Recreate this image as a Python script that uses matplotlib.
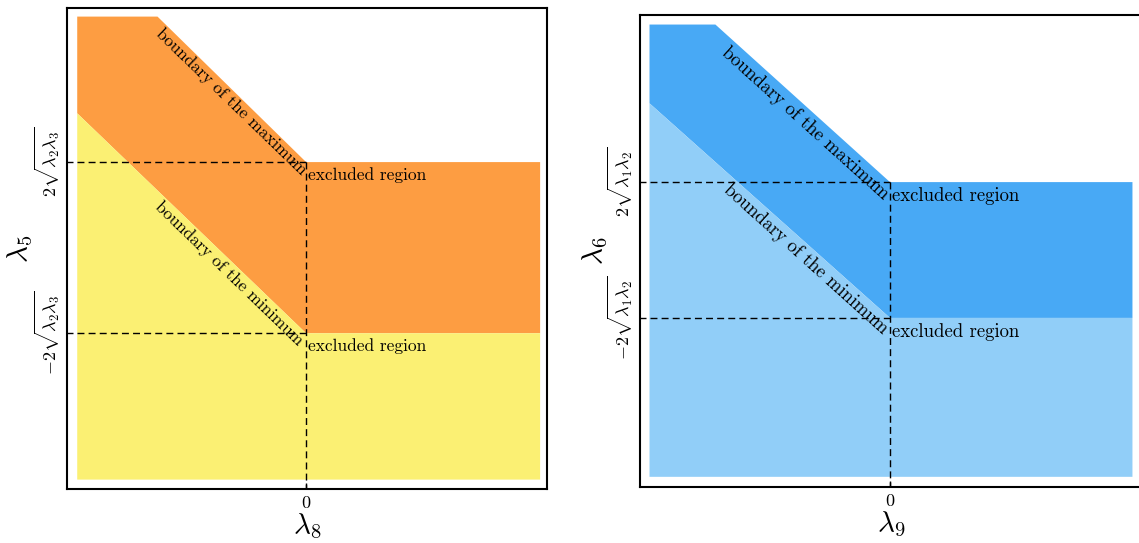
import matplotlib
matplotlib.use("Agg")
import matplotlib.pyplot as plt

plt.rcParams['mathtext.fontset'] = 'cm'
plt.rcParams['font.family'] = ['cmr10', 'DejaVu Serif']
plt.rcParams['axes.unicode_minus'] = False

# ---- data (left panel: lambda_5 vs lambda_8) ----
L_xlim = (-2.80, 2.82)
L_ylim = (-2.82, 2.80)
L_fill_x = (-2.68, 2.74)
L_fill_y = (-2.71, 2.70)
L_upper_bx = [-1.74, 0.0]      # boundary of the maximum
L_upper_by = [2.70, 1.0]
L_lower_bx = [-2.68, 0.0]      # boundary of the minimum
L_lower_by = [1.57, -1.0]
L_yticks = [-1.0, 1.0]
L_yticklabels = [r'$-2\sqrt{\lambda_2\lambda_3}$', r'$2\sqrt{\lambda_2\lambda_3}$']
L_xlabel = r'$\lambda_8$'
L_ylabel = r'$\lambda_5$'

# ---- data (right panel: lambda_6 vs lambda_9) ----
R_xlim = (-3.68, 3.71)
R_ylim = (-3.49, 3.46)
R_fill_x = (-3.54, 3.57)
R_fill_y = (-3.34, 3.32)
R_upper_bx = [-2.57, 0.0]
R_upper_by = [3.32, 1.0]
R_lower_bx = [-3.54, 0.0]
R_lower_by = [2.16, -1.0]
R_yticks = [-1.0, 1.0]
R_yticklabels = [r'$-2\sqrt{\lambda_1\lambda_2}$', r'$2\sqrt{\lambda_1\lambda_2}$']
R_xlabel = r'$\lambda_9$'
R_ylabel = r'$\lambda_6$'

xticks = [0.0]
xticklabels = ['0']

fig = plt.figure(figsize=(11.39, 5.43), dpi=100)
axL = fig.add_axes([0.0588, 0.0994, 0.4214, 0.8858])
axR = fig.add_axes([0.5619, 0.1031, 0.4407, 0.8692])


def panel(ax, xlim, ylim, fx, fy, ubx, uby, lbx, lby, yt, ytl, xl, yl,
          c_top, c_bot, ang, txt_up, txt_lo, exc_fs, exc_off, tick_fs, lab_fs, ypad):
    xL, xR = fx
    yB, yT = fy
    top = [(xL, yT), (ubx[0], uby[0]), (ubx[1], uby[1]), (xR, uby[1]),
           (xR, lby[1]), (lbx[1], lby[1]), (lbx[0], lby[0])]
    bot = [(lbx[0], lby[0]), (lbx[1], lby[1]), (xR, lby[1]), (xR, yB), (xL, yB)]
    ax.fill([p[0] for p in top], [p[1] for p in top], color=c_top, lw=0)
    ax.fill([p[0] for p in bot], [p[1] for p in bot], color=c_bot, lw=0)
    for yv in yt:
        ax.plot([xL, 0], [yv, yv], color='black', lw=1.0, ls=(0, (5, 3)))
    ax.plot([0, 0], [max(yt), ylim[0]], color='black', lw=1.0, ls=(0, (5, 3)))
    ax.set_xlim(*xlim)
    ax.set_ylim(*ylim)
    ax.set_xticks(xticks)
    ax.set_xticklabels(xticklabels, fontsize=tick_fs)
    ax.set_yticks(yt)
    ax.set_yticklabels(ytl, rotation=90, va='center', fontsize=tick_fs)
    ax.tick_params(direction='in', length=4, width=1)
    ax.tick_params(axis='x', pad=5)
    ax.set_xlabel(xl, fontsize=lab_fs, labelpad=0)
    ax.set_ylabel(yl, fontsize=lab_fs, labelpad=ypad)
    for s in ax.spines.values():
        s.set_linewidth(1.5)
    ax.text(txt_up[0], txt_up[1], 'boundary of the maximum', rotation=-ang,
            ha='center', va='center', fontsize=exc_fs, rotation_mode='anchor')
    ax.text(txt_lo[0], txt_lo[1], 'boundary of the minimum', rotation=-ang,
            ha='center', va='center', fontsize=exc_fs, rotation_mode='anchor')
    for yv in (uby[1], lby[1]):
        ax.annotate('excluded region', xy=(0, yv), xytext=(1.5, -exc_off),
                    textcoords='offset points', ha='left', va='center',
                    fontsize=exc_fs)


panel(axL, L_xlim, L_ylim, L_fill_x, L_fill_y, L_upper_bx, L_upper_by,
      L_lower_bx, L_lower_by, L_yticks, L_yticklabels, L_xlabel, L_ylabel,
      '#FD9D42', '#FBF073', 44, (-0.88, 1.70), (-0.90, -0.30), 12.5, 9.5, 13, 21, -1.5)
panel(axR, R_xlim, R_ylim, R_fill_x, R_fill_y, R_upper_bx, R_upper_by,
      R_lower_bx, R_lower_by, R_yticks, R_yticklabels, R_xlabel, R_ylabel,
      '#48A9F5', '#91CEF8', 42, (-1.25, 1.86), (-1.24, -0.13), 13.5, 10, 13, 21, -3)

fig.savefig('out.png', dpi=100)
